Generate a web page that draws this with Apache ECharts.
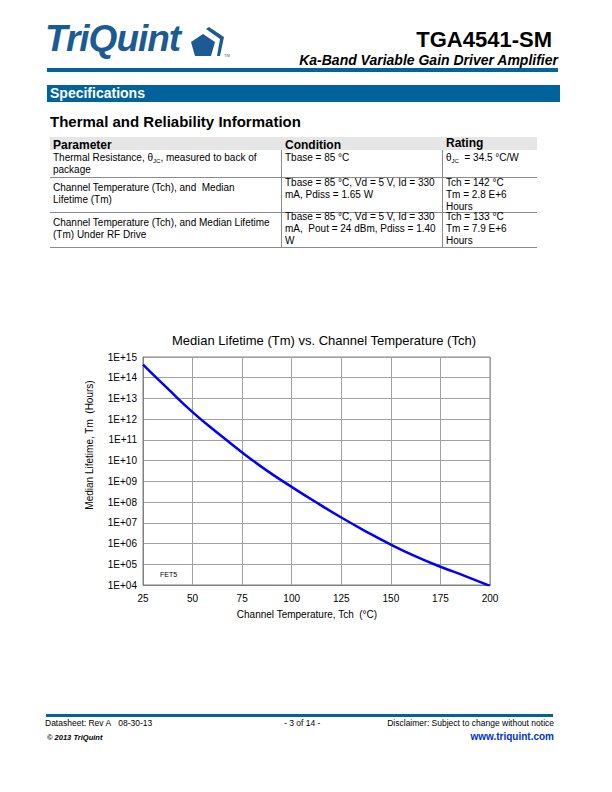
<!DOCTYPE html>
<html>
<head>
<meta charset="utf-8">
<script src="https://cdn.jsdelivr.net/npm/echarts@6/dist/echarts.min.js"></script>
<style>
  html, body { margin:0; padding:0; background:#fff; }
  body { width:612px; height:792px; position:relative; overflow:hidden; font-family:"Liberation Sans", Arial, sans-serif; color:#000; }
  .abs { position:absolute; white-space:nowrap; }
  .cell { position:absolute; font-size:10px; line-height:12px; white-space:nowrap; }
  .sub { font-size:6px; position:relative; top:2px; line-height:0; }
  .vline { position:absolute; width:1px; background:#8a8a8a; }
  .hline { position:absolute; height:1px; background:#8a8a8a; }
  #chart { position:absolute; left:0; top:0; width:612px; height:792px; }
</style>
</head>
<body>
<!-- header -->
<div class="abs" style="left:45px;top:18px;font-size:37px;font-weight:bold;font-style:italic;color:#1b5b93;letter-spacing:-1px;">TriQuint</div>
<svg class="abs" style="left:188px;top:26px;" width="45" height="32" viewBox="0 0 45 32">
  <polygon points="15,8 27,16 23,30 7,30 3,16" fill="#1b5b93"/>
  <polygon points="18,3 21,1 36,11 32,30 29,30 32,13" fill="#1b5b93"/>
  <text x="36" y="31" font-size="4" fill="#1b5b93" font-family="Liberation Sans">TM</text>
</svg>
<div class="abs" style="right:60px;top:27px;font-size:22px;font-weight:bold;">TGA4541-SM</div>
<div class="abs" style="right:54px;top:52px;font-size:14px;font-weight:bold;font-style:italic;">Ka-Band Variable Gain Driver Amplifier</div>
<div class="abs" style="left:47px;top:68px;width:511px;height:4px;background:#00639c;"></div>

<div class="abs" style="left:47px;top:85px;width:513px;height:17px;background:#00639c;"></div>
<div class="abs" style="left:50px;top:85px;font-size:14px;line-height:17px;font-weight:bold;color:#fff;">Specifications</div>
<div class="abs" style="left:50px;top:113px;font-size:15px;font-weight:bold;">Thermal and Reliability Information</div>

<!-- table -->
<div class="abs" style="left:50px;top:137px;width:487px;height:13px;background:#e6e6e6;"></div>
<div class="abs" style="left:53px;top:138px;font-size:12px;font-weight:bold;">Parameter</div>
<div class="abs" style="left:285px;top:138px;font-size:12px;font-weight:bold;">Condition</div>
<div class="abs" style="left:446px;top:136px;font-size:12px;font-weight:bold;">Rating</div>

<div class="vline" style="left:281px;top:150px;height:97px;"></div>
<div class="vline" style="left:442px;top:150px;height:97px;"></div>
<div class="hline" style="left:50px;top:177px;width:487px;"></div>
<div class="hline" style="left:50px;top:212px;width:487px;"></div>
<div class="hline" style="left:50px;top:247px;width:487px;"></div>

<div class="cell" style="left:53px;top:152px;">Thermal Resistance, θ<span class="sub">JC</span>, measured to back of<br>package</div>
<div class="cell" style="left:285px;top:152px;">Tbase = 85 °C</div>
<div class="cell" style="left:446px;top:152px;">θ<span class="sub">JC</span> &nbsp;= 34.5 °C/W</div>

<div class="cell" style="left:53px;top:182px;">Channel Temperature (Tch), and&nbsp; Median<br>Lifetime (Tm)</div>
<div class="cell" style="left:285px;top:177px;">Tbase = 85 °C, Vd = 5 V, Id = 330<br>mA, Pdiss = 1.65 W</div>
<div class="cell" style="left:446px;top:177px;">Tch = 142 °C<br>Tm = 2.8 E+6<br>Hours</div>

<div class="cell" style="left:53px;top:217px;">Channel Temperature (Tch), and Median Lifetime<br>(Tm) Under RF Drive</div>
<div class="cell" style="left:285px;top:211px;">Tbase = 85 °C, Vd = 5 V, Id = 330<br>mA,&nbsp; Pout = 24 dBm, Pdiss = 1.40<br>W</div>
<div class="cell" style="left:446px;top:211px;">Tch = 133 °C<br>Tm = 7.9 E+6<br>Hours</div>

<!-- footer -->
<div class="abs" style="left:46px;top:714px;width:507px;height:3px;background:#00639c;"></div>
<div class="abs" style="left:45px;top:718px;font-size:8.5px;">Datasheet: Rev A&nbsp;&nbsp; 08-30-13</div>
<div class="abs" style="left:284px;top:718px;font-size:8.5px;">- 3 of 14 -</div>
<div class="abs" style="right:58px;top:718px;font-size:8.5px;">Disclaimer: Subject to change without notice</div>
<div class="abs" style="left:47px;top:733px;font-size:7.5px;font-weight:bold;font-style:italic;">© 2013 TriQuint</div>
<div class="abs" style="right:58px;top:731px;font-size:10px;font-weight:bold;color:#0033cc;">www.triquint.com</div>

<div id="chart"></div>
<script>
// ---- data ----
const chartTitle = 'Median Lifetime (Tm) vs. Channel Temperature (Tch)';
const xAxisName = 'Channel Temperature, Tch  (°C)';
const yAxisName = 'Median Lifetime, Tm  (Hours)';
const channelTemp = [25, 37.5, 50, 62.5, 75, 87.5, 100, 112.5, 125, 137.5, 150, 162.5, 175, 187.5, 200];
const medianLifetime = [4.3e14, 2.95e13, 2.2e12, 2.2e11, 2.5e10, 3.3e9, 5.4e8, 9.5e7, 1.8e7, 3.8e6, 8.9e5, 2.4e5, 7.6e4, 2.7e4, 9.0e3];
const xTicks = [25, 50, 75, 100, 125, 150, 175, 200];
const yTickLabels = ['1E+04','1E+05','1E+06','1E+07','1E+08','1E+09','1E+10','1E+11','1E+12','1E+13','1E+14','1E+15'];
const noteLabel = 'FET5';

const chart = echarts.init(document.getElementById('chart'), null, { renderer: 'svg' });
const font = '"Liberation Sans", Arial, sans-serif';
chart.setOption({
  backgroundColor: 'transparent',
  animation: false,
  title: {
    text: chartTitle,
    left: 319, top: 329, textAlign: 'center',
    textStyle: { fontSize: 13, fontWeight: 'normal', fontFamily: font, color: '#000' }
  },
  grid: { left: 143, top: 357, width: 347, height: 228, show: true, borderColor: '#808080', borderWidth: 1, containLabel: false },
  xAxis: {
    type: 'value', min: xTicks[0], max: xTicks[xTicks.length-1], interval: 25,
    axisLine: { show: true, lineStyle: { color: '#808080' } },
    axisTick: { show: false },
    axisLabel: { fontSize: 10, fontFamily: font, color: '#000', margin: 8 },
    splitLine: { show: true, lineStyle: { color: '#a0a0a0', width: 1 } }
  },
  yAxis: {
    type: 'log', logBase: 10, min: 1e4, max: 1e15, interval: 1,
    axisLine: { show: true, lineStyle: { color: '#808080' } },
    axisTick: { show: false },
    minorTick: { show: false },
    axisLabel: { fontSize: 10, fontFamily: font, color: '#000', margin: 6,
      formatter: v => yTickLabels[Math.round(Math.log10(v)) - 4] },
    splitLine: { show: true, lineStyle: { color: '#a0a0a0', width: 1 } }
  },
  graphic: [{
    type: 'text', x: 307, y: 614,
    style: { text: xAxisName, fontSize: 10, fontFamily: font, fill: '#000', align: 'center', verticalAlign: 'middle' }
  }, {
    type: 'text', x: 89, y: 445, rotation: Math.PI / 2,
    style: { text: yAxisName, fontSize: 10, fontFamily: font, fill: '#000', align: 'center', verticalAlign: 'middle' }
  }, {
    type: 'text', left: 160, top: 571,
    style: { text: noteLabel, fontSize: 7, fontFamily: font, fill: '#000' }
  }],
  series: [{
    type: 'line',
    data: channelTemp.map((t, i) => [t, medianLifetime[i]]),
    smooth: true, showSymbol: false, clip: true,
    lineStyle: { color: '#0000ff', width: 2.5 }
  }]
});
</script>
</body>
</html>
